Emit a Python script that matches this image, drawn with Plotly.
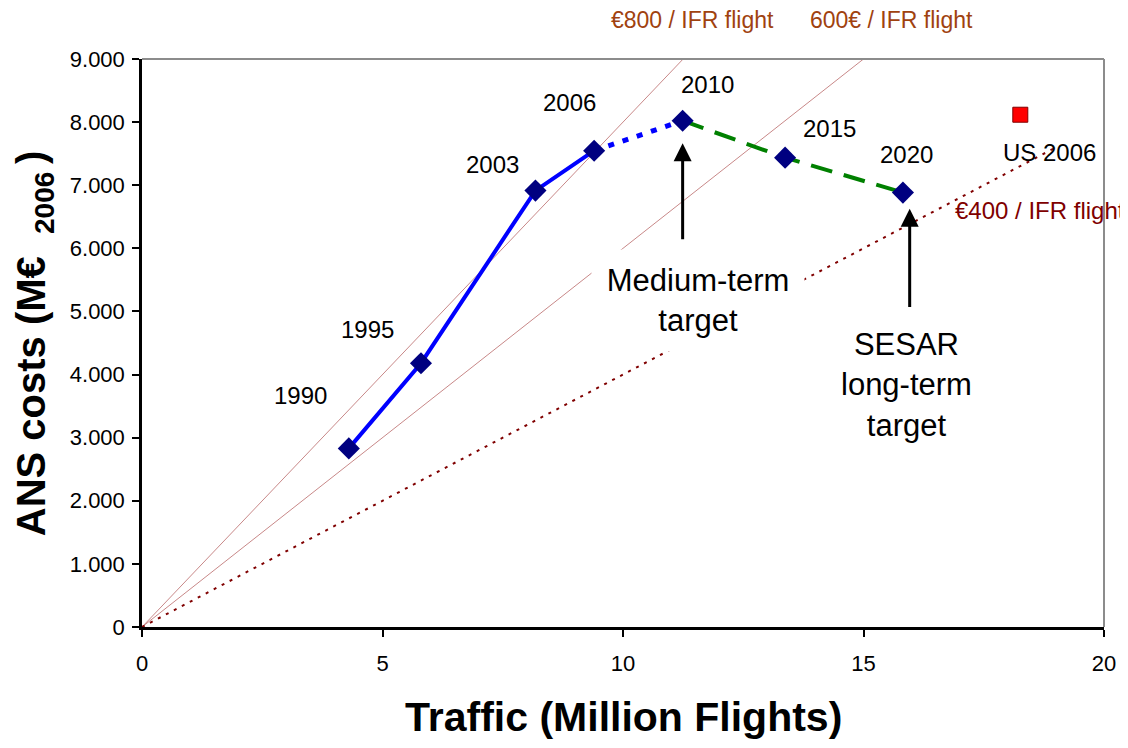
import plotly.graph_objects as go

# ---------------- data ----------------
years = ["1990", "1995", "2003", "2006", "2010", "2015", "2020"]
traffic = [4.30, 5.80, 8.18, 9.40, 11.24, 13.37, 15.82]      # million flights
costs = [2830, 4180, 6915, 7547, 8022, 7437, 6883]            # M€2006

us_label = "US 2006"
us_traffic = [18.26]
us_costs = [8117]

unit_costs = [800, 600, 400]                                   # € / IFR flight
unit_labels = ["€800 / IFR flight", "600€ / IFR flight", "€400 / IFR flight"]
unit_x_end = [11.25, 15.0, 19.0]

x_ticks = [0, 5, 10, 15, 20]
y_ticks = [0, 1000, 2000, 3000, 4000, 5000, 6000, 7000, 8000, 9000]
y_tick_labels = ["0", "1.000", "2.000", "3.000", "4.000", "5.000",
                 "6.000", "7.000", "8.000", "9.000"]

# ---------------- placement / style ----------------
FONT = "Arial, Liberation Sans, sans-serif"
year_label_pos = [(3.29, 3671), (4.68, 4715), (7.29, 7326), (8.88, 8307),
                  (11.76, 8592), (14.29, 7896), (15.90, 7484)]
us_label_pos = (18.86, 7516)

fig = go.Figure()

# reference unit-cost lines
ref_styles = [dict(color="#c88888", width=1),
              dict(color="#c88888", width=1),
              dict(color="#800000", width=2, dash="3px,6px")]
for c, xe, st in zip(unit_costs, unit_x_end, ref_styles):
    fig.add_trace(go.Scatter(x=[0, xe], y=[0, c * xe], mode="lines",
                             line=st, hoverinfo="skip", showlegend=False))

# historical (solid blue)
fig.add_trace(go.Scatter(x=traffic[0:4], y=costs[0:4], mode="lines",
                         line=dict(color="#0000ff", width=4), showlegend=False))
# 2006-2010 (dotted blue)
fig.add_trace(go.Scatter(x=traffic[3:5], y=costs[3:5], mode="lines",
                         line=dict(color="#0000ff", width=5, dash="6px,9px"),
                         showlegend=False))
# 2010-2020 (dashed green)
fig.add_trace(go.Scatter(x=traffic[4:7], y=costs[4:7], mode="lines",
                         line=dict(color="#008000", width=4, dash="22px,12px"),
                         showlegend=False))
# markers
fig.add_trace(go.Scatter(x=traffic, y=costs, mode="markers",
                         marker=dict(symbol="diamond", size=17, color="#000080"),
                         showlegend=False))
fig.add_trace(go.Scatter(x=us_traffic, y=us_costs, mode="markers",
                         marker=dict(symbol="square", size=15, color="#ff0000",
                                     line=dict(color="#800000", width=1)),
                         showlegend=False))

ann = []
for lab, (lx, ly) in zip(years, year_label_pos):
    ann.append(dict(x=lx, y=ly, xref="x", yref="y", text=lab, showarrow=False,
                    xanchor="center", yanchor="middle",
                    font=dict(family=FONT, size=24, color="black")))
ann.append(dict(x=us_label_pos[0], y=us_label_pos[1], xref="x", yref="y",
                text=us_label, showarrow=False, xanchor="center", yanchor="middle",
                font=dict(family=FONT, size=24, color="black")))

# unit cost labels
ann.append(dict(x=11.45, y=1.069, xref="x", yref="paper", text=unit_labels[0],
                xanchor="center", yanchor="middle",
                showarrow=False, font=dict(family=FONT, size=23, color="#a0420f")))
ann.append(dict(x=15.59, y=1.069, xref="x", yref="paper", text=unit_labels[1],
                xanchor="center", yanchor="middle",
                showarrow=False, font=dict(family=FONT, size=23, color="#a0420f")))
ann.append(dict(x=16.87, y=6598, xref="x", yref="y", text=unit_labels[2],
                xanchor="left", yanchor="middle", showarrow=False,
                font=dict(family=FONT, size=24, color="#800000")))

# target text boxes
ann.append(dict(x=11.55, y=5180, xref="x", yref="y",
                text="Medium-term<br>target", showarrow=False,
                xanchor="center", yanchor="middle",
                width=212, height=101, borderpad=0, bgcolor="white",
                font=dict(family=FONT, size=31, color="black")))
ann.append(dict(x=15.90, y=3829, xref="x", yref="y",
                text="SESAR<br>long-term<br>target", showarrow=False,
                xanchor="center", yanchor="middle",
                font=dict(family=FONT, size=31, color="black")))

# arrows
ann.append(dict(x=traffic[4], y=7666, ax=traffic[4], ay=6122,
                xref="x", yref="y", axref="x", ayref="y", text="",
                showarrow=True, arrowhead=2, arrowsize=1.2, arrowwidth=3,
                arrowcolor="black"))
ann.append(dict(x=15.96, y=6628, ax=15.96, ay=5046,
                xref="x", yref="y", axref="x", ayref="y", text="",
                showarrow=True, arrowhead=2, arrowsize=1.2, arrowwidth=3,
                arrowcolor="black"))

# axis titles
ann.append(dict(x=-0.112, y=0.50, xref="paper", yref="paper",
                xanchor="center", yanchor="middle",
                text="<b>ANS costs (M€  <sub>2006 </sub>)</b>", textangle=-90,
                showarrow=False, font=dict(family=FONT, size=40, color="black")))
ann.append(dict(x=0.5, y=-0.158, xref="paper", yref="paper",
                xanchor="center", yanchor="middle",
                text="<b>Traffic (Million Flights)</b>",
                showarrow=False, font=dict(family=FONT, size=41, color="black")))

# page body has an 8px margin: compensate so the plot area lands at 142..1108 x 59..627
fig.update_layout(
    width=1120, height=740,
    margin=dict(l=134, r=20, t=51, b=121),
    paper_bgcolor="white", plot_bgcolor="white",
    annotations=ann,
    shapes=[
        dict(type="line", xref="paper", yref="paper", x0=0, x1=1, y0=1, y1=1,
             line=dict(color="#8c8c8c", width=2)),
        dict(type="line", xref="paper", yref="paper", x0=1, x1=1, y0=0, y1=1,
             line=dict(color="#8c8c8c", width=2)),
    ],
)
fig.update_xaxes(range=[0, 20], tickvals=x_ticks, ticks="outside", ticklen=7,
                 tickcolor="black", tickwidth=1.5, showgrid=False, zeroline=False,
                 showline=True, linecolor="black", linewidth=2.5,
                 ticklabelstandoff=8,
                 tickfont=dict(family=FONT, size=22, color="black"))
fig.update_yaxes(range=[0, 9000], tickvals=y_ticks, ticktext=y_tick_labels,
                 ticks="outside", ticklen=7, tickcolor="black", tickwidth=1.5,
                 showgrid=False, zeroline=False, showline=True,
                 linecolor="black", linewidth=2.5,
                 ticklabelstandoff=3,
                 tickfont=dict(family=FONT, size=22, color="black"))

fig.write_html("out.html")
